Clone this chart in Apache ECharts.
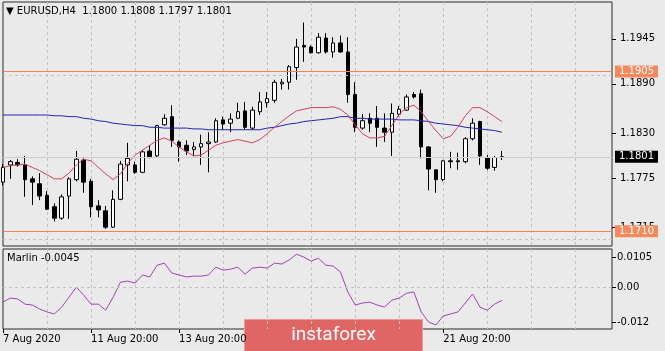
<!DOCTYPE html>
<html>
<head>
<meta charset="utf-8">
<script src="https://cdn.jsdelivr.net/npm/echarts@6/dist/echarts.min.js"></script>
<style>
html, body { margin: 0; padding: 0; background: #eaeaea; }
#main { width: 665px; height: 351px; }
</style>
</head>
<body>
<div id="main"></div>
<script>
// EURUSD H4, one entry per bar: [open, close, low, high]
var candles = [
  [1.1770,1.1788,1.1766,1.1792],[1.1791,1.1795,1.1774,1.1797],[1.1794,1.1791,1.1789,1.1798],
  [1.1791,1.1773,1.1752,1.1802],[1.1774,1.1770,1.1742,1.1777],[1.1768,1.1753,1.1748,1.1781],
  [1.1754,1.1737,1.1736,1.1759],[1.1740,1.1726,1.1722,1.1744],[1.1726,1.1752,1.1724,1.1755],
  [1.1753,1.1774,1.1725,1.1776],[1.1773,1.1798,1.1771,1.1808],[1.1797,1.1770,1.1757,1.1799],
  [1.1771,1.1740,1.1727,1.1774],[1.1741,1.1736,1.1727,1.1748],[1.1735,1.1715,1.1713,1.1741],
  [1.1715,1.1749,1.1714,1.1760],[1.1749,1.1792,1.1748,1.1796],[1.1791,1.1799,1.1771,1.1818],
  [1.1791,1.1782,1.1780,1.1795],[1.1782,1.1807,1.1781,1.1809],[1.1808,1.1801,1.1799,1.1815],
  [1.1802,1.1839,1.1801,1.1840],[1.1840,1.1848,1.1839,1.1853],[1.1850,1.1821,1.1813,1.1864],
  [1.1819,1.1813,1.1795,1.1821],[1.1815,1.1808,1.1803,1.1821],[1.1810,1.1813,1.1802,1.1819],
  [1.1813,1.1817,1.1791,1.1828],[1.1817,1.1819,1.1782,1.1831],[1.1819,1.1845,1.1818,1.1848],
  [1.1846,1.1841,1.1834,1.1850],[1.1842,1.1847,1.1831,1.1854],[1.1848,1.1856,1.1847,1.1867],
  [1.1857,1.1837,1.1834,1.1868],[1.1836,1.1858,1.1834,1.1862],[1.1856,1.1868,1.1852,1.1880],
  [1.1867,1.1872,1.1861,1.1880],[1.1870,1.1892,1.1867,1.1895],[1.1890,1.1892,1.1883,1.1896],
  [1.1892,1.1911,1.1883,1.1913],[1.1910,1.1935,1.1895,1.1945],[1.1937,1.1935,1.1917,1.1965],
  [1.1935,1.1928,1.1927,1.1937],[1.1928,1.1947,1.1927,1.1952],[1.1946,1.1929,1.1927,1.1952],
  [1.1929,1.1940,1.1922,1.1947],[1.1940,1.1929,1.1928,1.1949],[1.1929,1.1877,1.1867,1.1947],
  [1.1877,1.1837,1.1831,1.1892],[1.1836,1.1845,1.1834,1.1853],[1.1848,1.1842,1.1831,1.1854],
  [1.1848,1.1837,1.1813,1.1863],[1.1836,1.1831,1.1819,1.1854],[1.1831,1.1854,1.1802,1.1866],
  [1.1853,1.1859,1.1850,1.1863],[1.1858,1.1874,1.1857,1.1877],[1.1877,1.1874,1.1872,1.1880],
  [1.1878,1.1813,1.1799,1.1883],[1.1813,1.1786,1.1760,1.1814],[1.1785,1.1773,1.1757,1.1786],
  [1.1773,1.1796,1.1771,1.1797],[1.1796,1.1795,1.1787,1.1807],[1.1796,1.1795,1.1785,1.1806],
  [1.1795,1.1823,1.1793,1.1825],[1.1823,1.1842,1.1821,1.1848],[1.1844,1.1802,1.1791,1.1845],
  [1.1800,1.1787,1.1785,1.1803],[1.1788,1.1800,1.1784,1.1802],[1.1800,1.1801,1.1797,1.1808]
];

// red moving average
var maFast = [
  1.1788,1.1790,1.1791,1.1792,1.1788,1.1784,1.1779,1.1774,1.1774,1.1781,
  1.1791,1.1798,1.1796,1.1788,1.1780,1.1773,1.1780,1.1793,1.1803,1.1809,
  1.1815,1.1821,1.1824,1.1820,1.1813,1.1807,1.1802,1.1803,1.1809,1.1815,
  1.1818,1.1820,1.1822,1.1820,1.1818,1.1822,1.1829,1.1837,1.1844,1.1851,
  1.1857,1.1859,1.1861,1.1861,1.1861,1.1862,1.1859,1.1852,1.1840,1.1829,
  1.1824,1.1824,1.1826,1.1839,1.1853,1.1861,1.1864,1.1856,1.1844,1.1833,
  1.1823,1.1826,1.1837,1.1851,1.1861,1.1861,1.1856,1.1850,1.1844
];

// blue moving average
var maSlow = [
  1.1852,1.1852,1.1852,1.1852,1.1852,1.1852,1.1852,1.1851,1.1851,1.1850,
  1.1850,1.1848,1.1847,1.1845,1.1844,1.1842,1.1841,1.1840,1.1839,1.1839,
  1.1837,1.1837,1.1836,1.1836,1.1836,1.1836,1.1835,1.1835,1.1834,1.1834,
  1.1834,1.1834,1.1834,1.1834,1.1834,1.1834,1.1836,1.1837,1.1839,1.1841,
  1.1842,1.1844,1.1845,1.1846,1.1847,1.1848,1.1850,1.1850,1.1848,1.1848,
  1.1847,1.1847,1.1847,1.1847,1.1846,1.1846,1.1846,1.1845,1.1844,1.1842,
  1.1841,1.1840,1.1839,1.1837,1.1836,1.1835,1.1834,1.1833,1.1831
];

// Marlin oscillator (lower window)
var marlin = [
  -0.0051,-0.0037,-0.0040,-0.0058,-0.0061,-0.0075,-0.0085,-0.0092,-0.0068,-0.0034,
  0.0001,-0.0027,-0.0058,-0.0058,-0.0079,-0.0034,0.0018,0.0022,0.0015,0.0043,
  0.0036,0.0077,0.0084,0.0050,0.0043,0.0036,0.0039,0.0039,0.0043,0.0070,
  0.0060,0.0063,0.0070,0.0046,0.0067,0.0070,0.0067,0.0084,0.0081,0.0095,
  0.0115,0.0105,0.0091,0.0101,0.0077,0.0074,0.0053,-0.0016,-0.0061,-0.0054,
  -0.0051,-0.0061,-0.0068,-0.0044,-0.0037,-0.0020,-0.0016,-0.0085,-0.0120,-0.0130,
  -0.0099,-0.0092,-0.0085,-0.0054,-0.0023,-0.0068,-0.0079,-0.0058,-0.0045
];

var priceTicks = [1.1945, 1.1890, 1.1830, 1.1775, 1.1715];
var marlinTicks = [0.0105, 0, -0.012];
var marlinTickText = ['0.0105', '0.00', '-0.012'];
var levels = [1.1905, 1.1710];
// one label every 12 bars (17 and 19 Aug sit under the watermark)
var dateTicks = ['7 Aug 2020', '11 Aug 20:00', '13 Aug 20:00', '', '', '21 Aug 20:00'];
var slots = 84; // bars + empty room on the right

var categories = [];
for (var i = 0; i < slots; i++) {
  categories.push(i % 12 === 0 && dateTicks[i / 12] ? dateTicks[i / 12] : '');
}
var last = candles[candles.length - 1];
var font = 'DejaVu Sans';
var levelColor = '#f2845c';

function labelAt(idx) { return categories[idx] !== ''; }
function dayLine(idx) { return idx > 0 && idx % 6 === 0; }

var chart = echarts.init(document.getElementById('main'));

var option = {
  backgroundColor: '#eaeaea',
  animation: false,
  title: [{
    text: '\u25BC EURUSD,H4  ' + [last[0], last[3], last[2], last[1]].map(function (v) { return v.toFixed(4); }).join(' '),
    left: 6, top: 6, padding: 0,
    textStyle: { fontFamily: font, fontSize: 10, fontWeight: 'normal', color: '#000' }
  }, {
    text: 'Marlin ' + marlin[marlin.length - 1].toFixed(4),
    left: 7, top: 253, padding: 0,
    textStyle: { fontFamily: font, fontSize: 10, fontWeight: 'normal', color: '#000' }
  }],
  grid: [
    { left: 3, top: 2, width: 609, height: 244, outerBoundsMode: 'none', show: true, borderColor: '#2a2a2a', borderWidth: 1, backgroundColor: 'transparent' },
    { left: 3, top: 249, width: 609, height: 80, outerBoundsMode: 'none', show: true, borderColor: '#2a2a2a', borderWidth: 1, backgroundColor: 'transparent' }
  ],
  xAxis: [{
    type: 'category', gridIndex: 0, data: categories, boundaryGap: false,
    axisLine: { show: false, onZero: false }, axisTick: { show: false }, axisLabel: { show: false },
    splitLine: { show: true, interval: dayLine, lineStyle: { color: '#c2c2c2', type: [3, 3] } }
  }, {
    type: 'category', gridIndex: 1, data: categories, boundaryGap: false, position: 'bottom',
    axisLine: { show: false, onZero: false },
    axisTick: { show: true, interval: labelAt, length: 4, lineStyle: { color: '#000' } },
    axisLabel: { interval: labelAt, align: 'left', margin: 5, color: '#000', fontFamily: font, fontSize: 10, hideOverlap: false },
    splitLine: { show: true, interval: dayLine, lineStyle: { color: '#c2c2c2', type: [3, 3] } }
  }],
  yAxis: [{
    type: 'value', gridIndex: 0, position: 'right', min: 1.1692, max: 1.1990, scale: true,
    axisLine: { show: false },
    axisTick: { show: true, length: 4, customValues: priceTicks, lineStyle: { color: '#000' } },
    axisLabel: {
      customValues: priceTicks, margin: 8, color: '#000', fontFamily: font, fontSize: 10,
      formatter: function (v) { return v.toFixed(4); }
    },
    splitLine: { show: false }
  }, {
    type: 'value', gridIndex: 1, position: 'right', min: -0.0144, max: 0.0133,
    axisLine: { show: false },
    axisTick: { show: true, length: 4, customValues: marlinTicks, lineStyle: { color: '#000' } },
    axisLabel: {
      customValues: marlinTicks, margin: 5, color: '#000', fontFamily: font, fontSize: 10,
      formatter: function (v) {
        var best = 0;
        for (var k = 1; k < marlinTicks.length; k++) {
          if (Math.abs(marlinTicks[k] - v) < Math.abs(marlinTicks[best] - v)) best = k;
        }
        return marlinTickText[best];
      }
    },
    splitLine: { show: false }
  }],
  series: [{
    // horizontal price grid
    type: 'line', xAxisIndex: 0, yAxisIndex: 0, data: [], z: 1, silent: true,
    markLine: {
      silent: true, symbol: 'none', label: { show: false }, animation: false,
      lineStyle: { color: '#c2c2c2', type: [3, 3], width: 1 },
      data: priceTicks.map(function (v) { return { yAxis: v }; })
    }
  }, {
    // bid line
    type: 'line', xAxisIndex: 0, yAxisIndex: 0, data: [], z: 1, silent: true,
    itemStyle: { color: '#cdcdcd' },
    markLine: {
      silent: true, symbol: 'none', animation: false, precision: 4,
      lineStyle: { color: '#cdcdcd', type: 'solid', width: 1 },
      label: {
        show: true, position: 'end', distance: 3, formatter: function (p) { return p.value.toFixed(4); },
        backgroundColor: '#000', color: '#fff', padding: [1, 4, 1, 4], fontFamily: font, fontSize: 10
      },
      data: [{ yAxis: last[1] }]
    }
  }, {
    name: 'EURUSD', type: 'candlestick', xAxisIndex: 0, yAxisIndex: 0, z: 2,
    barWidth: 4, data: candles,
    itemStyle: { color: '#ffffff', color0: '#000000', borderColor: '#000000', borderColor0: '#000000', borderColorDoji: '#000000', borderWidth: 1 }
  }, {
    name: 'MA slow', type: 'line', xAxisIndex: 0, yAxisIndex: 0, z: 3, data: maSlow,
    showSymbol: false, lineStyle: { color: '#2424b0', width: 1 }
  }, {
    name: 'MA fast', type: 'line', xAxisIndex: 0, yAxisIndex: 0, z: 3, data: maFast,
    showSymbol: false, lineStyle: { color: '#d2405e', width: 1 }
  }, {
    // support / resistance levels
    type: 'line', xAxisIndex: 0, yAxisIndex: 0, data: [], z: 4, silent: true,
    itemStyle: { color: levelColor }, lineStyle: { color: levelColor },
    markLine: {
      silent: true, symbol: 'none', animation: false, precision: 4,
      lineStyle: { color: levelColor, type: 'solid', width: 1, opacity: 1 },
      label: {
        show: true, position: 'end', distance: 3, formatter: function (p) { return p.value.toFixed(4); },
        backgroundColor: '#f5895c', color: '#fff', padding: [1, 4, 1, 4], fontFamily: font, fontSize: 10
      },
      data: levels.map(function (v) { return { yAxis: v }; })
    }
  }, {
    name: 'Marlin', type: 'line', xAxisIndex: 1, yAxisIndex: 1, z: 3, data: marlin,
    showSymbol: false, lineStyle: { color: '#a045b0', width: 1 },
    markLine: {
      silent: true, symbol: 'none', label: { show: false }, animation: false,
      lineStyle: { color: '#c2c2c2', type: [3, 3], width: 1 },
      data: [{ yAxis: 0 }]
    }
  }],
  graphic: [{
    type: 'group', left: 244, top: 319, z: 100,
    children: [{
      type: 'rect', shape: { x: 0, y: 0, width: 178, height: 32 },
      style: { fill: '#e06565', stroke: '#ef9a9a', lineWidth: 1 }
    }, {
      type: 'text', x: 89, y: 16,
      style: {
        text: 'instaforex', fill: '#ffffff', font: '19px Roboto',
        align: 'center', verticalAlign: 'middle', textAlign: 'center', textVerticalAlign: 'middle'
      }
    }]
  }]
};

chart.setOption(option);
</script>
</body>
</html>
